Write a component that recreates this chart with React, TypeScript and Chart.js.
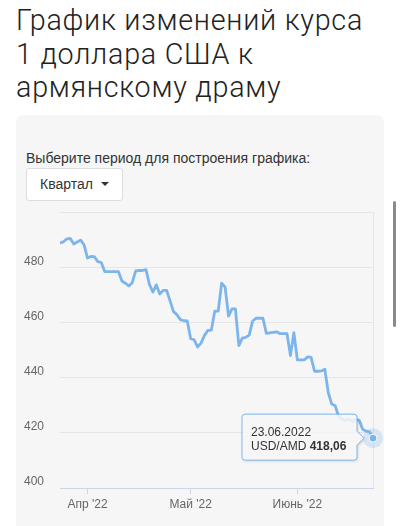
import React, { useEffect, useRef } from "react";
import Chart from "chart.js/auto";

const START_DATE = "2022-03-24";
const values: number[] = [
  488.8, 489.2, 490.3, 490.4, 488.4, 489.1, 489.8, 488.1,
  483.3, 483.9, 483.8, 482.0, 481.7, 478.4, 478.4, 478.4, 478.4, 478.4,
  475.0, 474.2, 473.2, 474.4, 478.7, 478.8, 478.8, 479.1, 473.8, 471.0, 473.6, 470.3,
  471.6, 471.6, 467.8, 463.9, 462.8, 461.0, 460.6, 460.5,
  454.1, 453.7, 451.1, 452.5, 455.3, 457.1, 457.2, 464.1, 464.1, 474.2,
  472.8, 462.3, 464.9, 464.9, 451.6, 454.3, 454.6, 455.4, 460.5, 461.5,
  461.5, 461.5, 456.0, 456.2, 456.4, 456.6, 455.9, 455.9, 455.9, 448.0, 456.3,
  446.4, 446.4, 446.4, 447.5, 447.3, 442.3, 442.3, 442.4, 443.0, 434.5,
  430.4, 429.8, 426.0, 425.0, 424.5, 425.0, 424.0, 424.8, 424.5, 421.3,
  420.6, 420.3, 418.06,
];
const monthTickDates = ["2022-04-01", "2022-05-01", "2022-06-01"];
const monthTickLabels = ["Апр '22", "Май '22", "Июнь '22"];
const yTicks = [400, 420, 440, 460, 480, 500];
const SERIES_NAME = "USD/AMD";
const titleLines = ["График изменений курса", "1 доллара США к", "армянскому драму"];

const DAY = 86400000;
const startMs = Date.parse(START_DATE + "T00:00:00Z");
const dayIndex = (d: string) => Math.round((Date.parse(d + "T00:00:00Z") - startMs) / DAY);
const fmtDate = (i: number) => {
  const d = new Date(startMs + i * DAY);
  const p = (n: number) => String(n).padStart(2, "0");
  return `${p(d.getUTCDate())}.${p(d.getUTCMonth() + 1)}.${d.getUTCFullYear()}`;
};

const FONT = "'Liberation Sans', Arial, Helvetica, sans-serif";

const decorPlugin = {
  id: "decor",
  beforeDatasetsDraw(chart: any) {
    const { ctx, chartArea } = chart;
    ctx.save();
    ctx.strokeStyle = "#e6e6e6";
    ctx.lineWidth = 1;
    ctx.beginPath();
    const x = Math.round(chartArea.right) + 0.5;
    ctx.moveTo(x, chartArea.top);
    ctx.lineTo(x, chartArea.bottom);
    ctx.stroke();
    ctx.restore();
  },
  afterDatasetsDraw(chart: any) {
    const { ctx } = chart;
    const meta = chart.getDatasetMeta(0);
    const idx = meta.data.length - 1;
    const el = meta.data[idx];
    const px = el.x;
    const py = el.y;
    ctx.save();
    ctx.fillStyle = "rgba(124,181,236,0.25)";
    ctx.beginPath();
    ctx.arc(px, py, 10, 0, Math.PI * 2);
    ctx.fill();
    const w = 115;
    const h = 46;
    const right = px - 16;
    const left = right - w;
    const top = py - 24;
    const bottom = top + h;
    const r = 3;
    const tipX = px - 9;
    ctx.beginPath();
    ctx.moveTo(left + r, top);
    ctx.lineTo(right - r, top);
    ctx.quadraticCurveTo(right, top, right, top + r);
    ctx.lineTo(right, py - 7);
    ctx.lineTo(tipX, py);
    ctx.lineTo(right, py + 7);
    ctx.lineTo(right, bottom - r);
    ctx.quadraticCurveTo(right, bottom, right - r, bottom);
    ctx.lineTo(left + r, bottom);
    ctx.quadraticCurveTo(left, bottom, left, bottom - r);
    ctx.lineTo(left, top + r);
    ctx.quadraticCurveTo(left, top, left + r, top);
    ctx.closePath();
    ctx.save();
    ctx.shadowColor = "rgba(0,0,0,0.18)";
    ctx.shadowOffsetX = 1;
    ctx.shadowOffsetY = 1;
    ctx.shadowBlur = 3;
    ctx.fillStyle = "rgba(252,252,252,0.85)";
    ctx.fill();
    ctx.restore();
    ctx.strokeStyle = "#7cb5ec";
    ctx.lineWidth = 1;
    ctx.stroke();
    ctx.fillStyle = "#333333";
    ctx.textBaseline = "alphabetic";
    ctx.textAlign = "left";
    ctx.font = `12px ${FONT}`;
    ctx.fillText(fmtDate(idx), left + 9, top + 22);
    const lbl = SERIES_NAME + " ";
    ctx.fillText(lbl, left + 9, top + 36);
    const lw = ctx.measureText(lbl).width;
    ctx.font = `bold 12px ${FONT}`;
    ctx.fillText(values[idx].toFixed(2).replace(".", ","), left + 9 + lw, top + 36);
    ctx.beginPath();
    ctx.arc(px, py, 4, 0, Math.PI * 2);
    ctx.fillStyle = "#7cb5ec";
    ctx.fill();
    ctx.strokeStyle = "#ffffff";
    ctx.lineWidth = 1;
    ctx.stroke();
    ctx.restore();
  },
};

export default function App() {
  const ref = useRef<HTMLCanvasElement>(null);
  useEffect(() => {
    if (!ref.current) return;
    const tickIdx = monthTickDates.map(dayIndex);
    const chart = new Chart(ref.current, {
      type: "line",
      data: {
        datasets: [
          {
            label: SERIES_NAME,
            data: values.map((v, i) => ({ x: i, y: v })),
            borderColor: "#7cb5ec",
            borderWidth: 2.8,
            pointRadius: 0,
            tension: 0,
            borderJoinStyle: "round",
            borderCapStyle: "round",
            fill: false,
          },
        ],
      },
      options: {
        animation: false,
        responsive: false,
        events: [],
        layout: { padding: { top: 6, right: 11, left: 0, bottom: 0 } },
        plugins: { legend: { display: false }, tooltip: { enabled: false } },
        scales: {
          x: {
            type: "linear",
            min: 0,
            max: values.length - 1,
            afterBuildTicks: (scale: any) => {
              scale.ticks = tickIdx.map((v) => ({ value: v }));
            },
            afterFit: (scale: any) => {
              scale.height = 30;
              scale.paddingLeft = 0;
              scale.paddingRight = 0;
            },
            ticks: {
              autoSkip: false,
              maxRotation: 0,
              padding: 3,
              color: "#666666",
              font: { size: 12, family: FONT },
              callback: (v: any) => {
                const k = tickIdx.indexOf(Number(v));
                return k >= 0 ? monthTickLabels[k] : "";
              },
            },
            grid: {
              drawOnChartArea: false,
              drawTicks: true,
              tickLength: 6,
              color: "#ccd6eb",
            },
            border: { color: "#ccd6eb", width: 1 },
          },
          y: {
            min: 400,
            max: 500,
            afterBuildTicks: (scale: any) => {
              scale.ticks = yTicks.map((v) => ({ value: v }));
            },
            afterFit: (scale: any) => {
              scale.width = 44;
              scale.paddingTop = 0;
              scale.paddingBottom = 0;
            },
            ticks: {
              padding: 16,
              labelOffset: -6,
              color: "#666666",
              font: { size: 12, family: FONT },
              callback: (v: any) => (Number(v) === 500 ? "" : String(v)),
            },
            grid: { color: "#e6e6e6", drawTicks: false },
            border: { display: false },
          },
        },
      },
      plugins: [decorPlugin],
    } as any);
    return () => chart.destroy();
  }, []);

  return (
    <div style={{ position: "relative" }}>
      <div
        style={{
          margin: "-4px 0 0 0",
          padding: "0 8px",
          fontFamily: "Roboto, 'Liberation Sans', Arial, sans-serif",
          fontWeight: 300,
          fontSize: 28.7,
          letterSpacing: "0.75px",
          lineHeight: "33.5px",
          color: "#222",
          whiteSpace: "nowrap",
        }}
      >
        {titleLines.map((t, i) => (
          <div key={i}>{t}</div>
        ))}
      </div>
      <div
        style={{
          marginTop: 10,
          marginLeft: 8,
          width: 368,
          height: 420,
          background: "#f6f6f6",
          borderRadius: 8,
          paddingTop: 34,
          boxSizing: "border-box",
          fontFamily: FONT,
          color: "#333",
        }}
      >
        <div style={{ marginLeft: 10, fontSize: 14, lineHeight: "19px" }}>
          Выберите период для построения графика:
        </div>
        <div
          style={{
            marginLeft: 10,
            width: 97,
            height: 33,
            boxSizing: "border-box",
            background: "#fff",
            border: "1px solid #dddddd",
            borderRadius: 3,
            display: "flex",
            alignItems: "center",
            paddingLeft: 13,
            fontSize: 14,
          }}
        >
          <span>Квартал</span>
          <span
            style={{
              display: "inline-block",
              marginLeft: 8,
              width: 0,
              height: 0,
              borderLeft: "4px solid transparent",
              borderRight: "4px solid transparent",
              borderTop: "4px solid #333",
            }}
          />
        </div>
        <canvas ref={ref} width={368} height={312} style={{ display: "block", marginTop: 5 }} />
      </div>
      <div
        style={{
          position: "fixed",
          left: 393,
          top: 201,
          width: 3,
          height: 126,
          borderRadius: 2,
          background: "#8a8a8a",
          zIndex: 10,
        }}
      />
    </div>
  );
}
